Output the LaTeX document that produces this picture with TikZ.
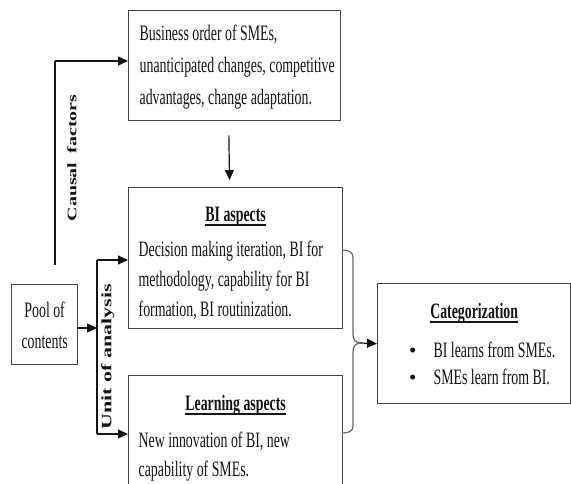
\documentclass[tikz,border=0pt]{standalone}
\usepackage{fontspec}
\usepackage{graphicx}
\setmainfont{Liberation Serif}[FakeStretch=0.63]
\newfontfamily\rotfont{Liberation Serif}
\usetikzlibrary{arrows.meta}
\definecolor{ink}{HTML}{141414}
\definecolor{frame}{HTML}{444444}
\newcommand\ulbf[1]{\setbox0=\hbox{\bfseries #1}\rlap{\rule[-4.5pt]{\wd0}{1.8pt}}\box0}
\newcommand\catbullet{\hspace*{31.5pt}\makebox[24.5pt][l]{{\rotfont\fontsize{21}{21}\selectfont •}}}
\tikzset{
  box/.style={draw=frame, line width=1.3pt, inner sep=0pt, anchor=north west, text=ink},
  arr/.style={draw=ink, line width=1.2pt, -{Triangle[length=10pt,width=9pt]}},
  plainline/.style={draw=ink, line width=1.2pt},
  bracestyle/.style={draw=frame!80, line width=1.2pt},
  rotlabel/.style={rotate=90, inner sep=0pt, text=ink}
}
\begin{document}
\begin{tikzpicture}[x=1pt,y=-1pt]
\clip (0,0) rectangle (571,484);
\fill[white] (0,0) rectangle (571,484);

% boxes
\node[box, font=\fontsize{22}{32}\selectfont] (topbox) at (128,10)
  {\parbox[c][110pt][t]{212pt}{\leftskip=11pt\rule{0pt}{30pt}Business order of SMEs,\\
   unanticipated changes, competitive\\ advantages, change adaptation.}};

\node[box, font=\fontsize{22}{30}\selectfont] (bi) at (128,187)
  {\parbox[c][141pt][t]{214pt}{{\centering\rule{0pt}{34pt}\ulbf{BI aspects}\par}\vspace{5pt}%
   \leftskip=10pt Decision making iteration, BI for\\ methodology, capability for BI\\
   formation, BI routinization.}};

\node[box, font=\fontsize{22}{29}\selectfont] (learn) at (128,375)
  {\parbox[c][140pt][t]{214pt}{{\centering\rule{0pt}{35pt}\ulbf{Learning aspects}\par}\vspace{8pt}%
   \leftskip=10pt New innovation of BI, new\\ capability of SMEs.}};

\node[box, font=\fontsize{22}{31}\selectfont] (pool) at (11,284)
  {\parbox[c][80pt][t]{66pt}{\centering\rule{0pt}{33pt}Pool of\\ contents}};

\node[box, font=\fontsize{22}{27}\selectfont] (cat) at (377,283)
  {\parbox[c][120pt][t]{193pt}{{\centering\rule{0pt}{35pt}\ulbf{Categorization}\par}\vspace{12pt}%
   \catbullet BI learns from SMEs.\\
   \catbullet SMEs learn from BI.}};

% rotated labels
\node[rotlabel] (causal) at (72,158)
  {\scalebox{1}[0.65]{\rotfont\bfseries\fontsize{20}{24}\selectfont Causal\hspace{0.45em}factors}};
\node[rotlabel] (unit) at (108,357)
  {\scalebox{1}[0.65]{\rotfont\bfseries\fontsize{22}{26}\selectfont Unit of analysis}};

% coordinates
\coordinate (cbot) at (55,265);
\coordinate (ctop) at (55,61);
\coordinate (jt) at (97,260);
\coordinate (jb) at (97,434);
\coordinate (jm) at (97,328);
\coordinate (bt) at (342,250);
\coordinate (bb) at (342,433);
\coordinate (btip) at (360,343);

% connectors
\draw[plainline] (cbot) -- (ctop);
\draw[arr] (ctop) -- (topbox.west |- ctop);
\draw[arr] (pool.east |- jm) -- (jm);
\draw[plainline] (jt) -- (jb);
\draw[arr] (jt) -- (bi.west |- jt);
\draw[arr] (jb) -- (learn.west |- jb);
\draw[arr, shorten <=14pt, shorten >=7pt] ([xshift=-6pt]topbox.south) -- ([xshift=-6pt]bi.north);

% brace
\draw[bracestyle] (bt) .. controls (349,250) and (353,252) .. (353,258)
  -- (353,334) .. controls (353,340) and (355,342) .. (btip)
  .. controls (355,344) and (353,346) .. (353,352)
  -- (353,426) .. controls (353,431) and (349,433) .. (bb);
\draw[arr] (btip) -- (cat.west);
\end{tikzpicture}
\end{document}
